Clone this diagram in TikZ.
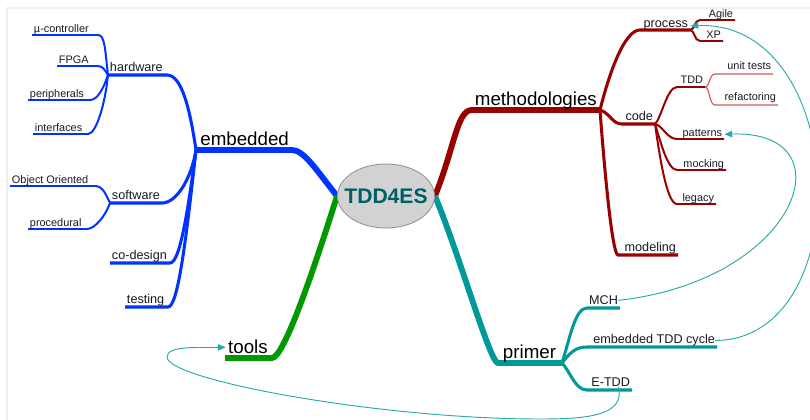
\documentclass[tikz,border=0pt]{standalone}
\usepackage{fontspec}
\setmainfont{Liberation Sans}
\usetikzlibrary{shapes.geometric, arrows.meta, backgrounds}

\definecolor{embblue}{RGB}{0, 51, 255}
\definecolor{methred}{RGB}{153, 0, 0}
\definecolor{twigred}{RGB}{200, 95, 95}
\definecolor{toolgreen}{RGB}{0, 153, 0}
\definecolor{primteal}{RGB}{0, 153, 153}
\definecolor{linkteal}{RGB}{40, 170, 170}
\definecolor{roottext}{RGB}{0, 95, 100}
\definecolor{framegray}{RGB}{236, 241, 248}
\definecolor{ink}{RGB}{25, 25, 35}

\begin{document}
\begin{tikzpicture}[
  x=0.03cm, y=-0.03cm,
  root/.style = {ellipse, draw=gray!80, fill=gray!35, line width=0.8pt,
    inner sep=0pt, minimum width=2.91cm, minimum height=1.92cm},
  roottxt/.style = {font=\fontsize{18}{20}\selectfont\bfseries, text=roottext},
  trunk/.style = {line width=5pt},
  bough/.style = {line width=2.6pt},
  twig/.style = {line width=1.7pt},
  hair/.style = {line width=1pt},
  mainlbl/.style = {font=\fontsize{16}{18}\selectfont, yshift=3.5pt, inner sep=0pt},
  sublbl/.style = {font=\fontsize{10.8}{13}\selectfont, text=ink, yshift=2.8pt, inner sep=0pt},
  leaflbl/.style = {font=\fontsize{9.3}{11}\selectfont, text=ink, yshift=2pt, inner sep=0pt},
  lside/.style = {anchor=base west, xshift=1.5pt},
  rside/.style = {anchor=base east, xshift=-1.5pt},
  xref/.style = {draw=linkteal, line width=0.8pt, -{Triangle[length=6.5pt, width=5.5pt]}}
]

\path[use as bounding box, clip] (0,0) rectangle (810,420);
\draw[framegray, line width=1.5pt] (7,420) -- (7,8) -- (810,8);

\node[root] (root) at (386,196) {};
\node[roottxt] (roottag) at (root.center) {TDD4ES};

% embedded
\coordinate (embL) at (196,150); \coordinate (embR) at (292,150);
\coordinate (hwL) at (108,75);   \coordinate (hwR) at (167,75);
\coordinate (swL) at (110,203);  \coordinate (swR) at (162,203);
\coordinate (cdL) at (110,263);  \coordinate (cdR) at (170,263);
\coordinate (tsL) at (125,307);  \coordinate (tsR) at (168,307);
\coordinate (ucL) at (32,35);    \coordinate (ucR) at (98,35);
\coordinate (fpL) at (57,66);    \coordinate (fpR) at (97,66);
\coordinate (peL) at (28,100);   \coordinate (peR) at (90,100);
\coordinate (ifL) at (33,134);   \coordinate (ifR) at (88,134);
\coordinate (ooL) at (10,186);   \coordinate (ooR) at (95,186);
\coordinate (pcL) at (28,229);   \coordinate (pcR) at (87,229);

% tools
\coordinate (toolsL) at (225,358); \coordinate (toolsR) at (272,358);

% methodologies
\coordinate (methL) at (472,110); \coordinate (methR) at (600,110);
\coordinate (prcL) at (640,30);   \coordinate (prcR) at (690,30);
\coordinate (agL) at (700,20);    \coordinate (agR) at (735,20);
\coordinate (xpL) at (700,41);    \coordinate (xpR) at (723,41);
\coordinate (cdeL) at (622,124);  \coordinate (cdeR) at (655,124);
\coordinate (tddL) at (677,87);   \coordinate (tddR) at (705,87);
\coordinate (utL) at (715,74);    \coordinate (utR) at (773,74);
\coordinate (rfL) at (715,105);   \coordinate (rfR) at (778,105);
\coordinate (ptL) at (677,139);   \coordinate (ptR) at (724,139);
\coordinate (mkL) at (677,170);   \coordinate (mkR) at (726,170);
\coordinate (lgL) at (677,204);   \coordinate (lgR) at (716,204);
\coordinate (mdL) at (618,255);   \coordinate (mdR) at (678,255);

% primer
\coordinate (primL) at (498,363); \coordinate (primR) at (562,363);
\coordinate (mchL) at (587,308);  \coordinate (mchR) at (620,308);
\coordinate (etcL) at (587,347);  \coordinate (etcR) at (717,347);
\coordinate (etdL) at (587,390);  \coordinate (etdR) at (632,390);

\begin{scope}[on background layer]
  % main branches
  \draw[trunk, embblue] (embL) -- (embR) .. controls +(12,0) and +(-20,-25) .. (root.west);
  \draw[trunk, toolgreen] (toolsL) -- (toolsR) .. controls +(12,0) and +(-22,70) .. (root.west);
  \draw[trunk, methred] (methR) -- (methL) .. controls +(-15,0) and +(20,-50) .. (root.east);
  \draw[trunk, primteal] (primR) -- (primL) .. controls +(-8,0) and +(25,60) .. (root.east);

  % embedded
  \draw[bough, embblue] (hwL) -- (hwR) .. controls +(15,0) and +(-6,-40) .. (embL);
  \draw[bough, embblue] (swL) -- (swR) .. controls +(14,0) and +(-5,30) .. (embL);
  \draw[bough, embblue] (cdL) -- (cdR) .. controls +(10,0) and +(-8,60) .. (embL);
  \draw[bough, embblue] (tsL) -- (tsR) .. controls +(10,0) and +(-10,90) .. (embL);
  \draw[twig, embblue] (ucL) -- (ucR) .. controls +(7,0) and +(-3,-25) .. (hwL);
  \draw[twig, embblue] (fpL) -- (fpR) .. controls +(6,0) and +(-4,-6) .. (hwL);
  \draw[twig, embblue] (peL) -- (peR) .. controls +(8,0) and +(-4,12) .. (hwL);
  \draw[twig, embblue] (ifL) -- (ifR) .. controls +(8,0) and +(-3,30) .. (hwL);
  \draw[twig, embblue] (ooL) -- (ooR) .. controls +(8,0) and +(-4,-8) .. (swL);
  \draw[twig, embblue] (pcL) -- (pcR) .. controls +(8,0) and +(-4,12) .. (swL);

  % methodologies
  \draw[bough, methred] (methR) .. controls +(10,-40) and +(-15,0) .. (prcL) -- (prcR);
  \draw[bough, methred] (methR) .. controls +(10,3) and +(-10,0) .. (cdeL) -- (cdeR);
  \draw[bough, methred] (methR) .. controls +(6,80) and +(-5,0) .. (mdL) -- (mdR);
  \draw[twig, methred] (prcR) .. controls +(5,0) and +(-6,0) .. (agL) -- (agR);
  \draw[twig, methred] (prcR) .. controls +(5,0) and +(-6,0) .. (xpL) -- (xpR);
  \draw[twig, methred] (cdeR) .. controls +(6,-5) and +(-10,0) .. (tddL) -- (tddR);
  \draw[twig, methred] (cdeR) .. controls +(8,2) and +(-10,0) .. (ptL) -- (ptR);
  \draw[twig, methred] (cdeR) .. controls +(5,15) and +(-10,0) .. (mkL) -- (mkR);
  \draw[twig, methred] (cdeR) .. controls +(5,35) and +(-10,0) .. (lgL) -- (lgR);
  \draw[hair, twigred] (tddR) .. controls +(5,0) and +(-6,0) .. (utL) -- (utR);
  \draw[hair, twigred] (tddR) .. controls +(5,0) and +(-6,0) .. (rfL) -- (rfR);

  % primer
  \draw[bough, primteal] (primR) .. controls +(8,-25) and +(-12,0) .. (mchL) -- (mchR);
  \draw[bough, primteal] (primR) .. controls +(8,-10) and +(-12,0) .. (etcL) -- (etcR);
  \draw[bough, primteal] (primR) .. controls +(8,8) and +(-12,0) .. (etdL) -- (etdR);
\end{scope}

% labels
\node[mainlbl, lside, xshift=2pt] (emb) at (embL) {embedded};
\node[mainlbl, lside, xshift=1pt] (tools) at (toolsL) {tools};
\node[mainlbl, rside, xshift=-1pt] (meth) at (methR) {methodologies};
\node[mainlbl, lside, xshift=2.5pt] (prim) at (primL) {primer};

\node[sublbl, lside] (hw) at (hwL) {hardware};
\node[sublbl, lside] (sw) at (swL) {software};
\node[sublbl, lside] (cd) at (cdL) {co-design};
\node[sublbl, lside] (ts) at (tsL) {testing};
\node[leaflbl, lside] (uc) at (ucL) {µ-controller};
\node[leaflbl, lside] (fp) at (fpL) {FPGA};
\node[leaflbl, lside] (pe) at (peL) {peripherals};
\node[leaflbl, lside] (if) at (ifL) {interfaces};
\node[leaflbl, lside] (oo) at (ooL) {Object Oriented};
\node[leaflbl, lside] (pc) at (pcL) {procedural};

\node[sublbl, rside, yshift=-1pt] (prc) at (prcR) {process};
\node[sublbl, rside] (cde) at (cdeR) {code};
\node[sublbl, rside] (md) at (mdR) {modeling};
\node[leaflbl, rside] (ag) at (agR) {Agile};
\node[leaflbl, rside] (xp) at (xpR) {XP};
\node[leaflbl, rside, yshift=1pt] (tdd) at (tddR) {TDD};
\node[leaflbl, rside, yshift=1.5pt] (ut) at (utR) {unit tests};
\node[leaflbl, rside, yshift=1.5pt] (rf) at (rfR) {refactoring};
\node[leaflbl, rside] (pt) at (ptR) {patterns};
\node[leaflbl, rside] (mk) at (mkR) {mocking};
\node[leaflbl, rside] (lg) at (lgR) {legacy};

\node[sublbl, rside] (mch) at (mchR) {MCH};
\node[sublbl, rside] (etc) at (etcR) {embedded TDD cycle};
\node[sublbl, rside] (etd) at (etdR) {E-TDD};

% cross links
\draw[xref] (mch.east) .. controls (800,280) and (850,130) .. ([xshift=2pt]pt.east);
\draw[xref] (etc.east) .. controls (860,340) and (850,20) .. ([xshift=2pt]prc.east);
\draw[xref] ([xshift=-10pt]etd.south east) .. controls (625,415) and (590,419) .. (540,419)
  .. controls (380,419) and (167,380) .. (167,357)
  .. controls (167,345) and (200,348) .. ([xshift=-2pt]tools.west);

\end{tikzpicture}
\end{document}
